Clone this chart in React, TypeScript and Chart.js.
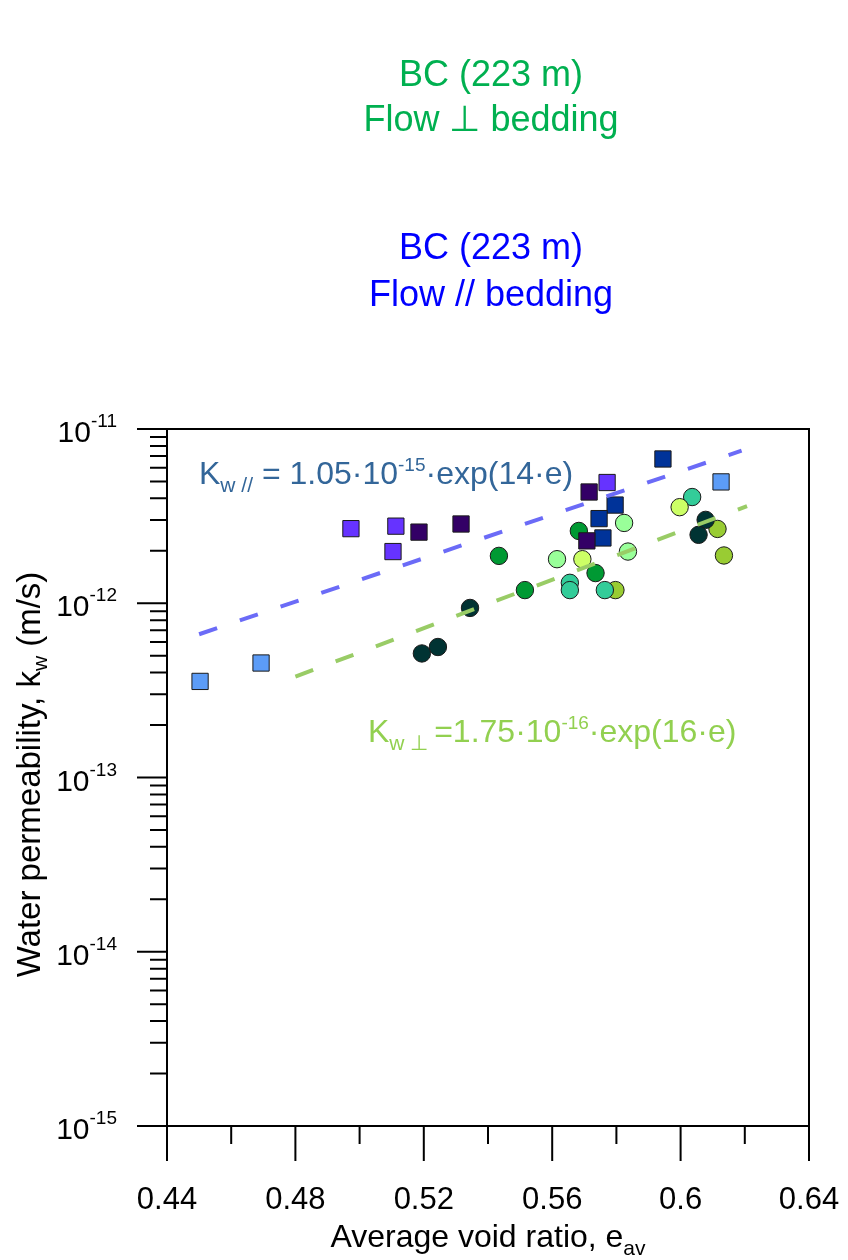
import React, { useEffect, useRef } from 'react';
import { Chart, registerables } from 'chart.js';

Chart.register(...registerables);

// ---------- axis definitions ----------
const X_MIN = 0.44;
const X_MAX = 0.64;
const Y_MIN = 1e-15;
const Y_MAX = 1e-11;
const xMajorTicks = [0.44, 0.48, 0.52, 0.56, 0.6, 0.64];
const xTickLabels = ['0.44', '0.48', '0.52', '0.56', '0.6', '0.64'];
const xMinorTicks = [0.46, 0.5, 0.54, 0.58, 0.62];
const yDecadeExponents = [-11, -12, -13, -14, -15];
const yMinorMultipliers = [2, 3, 4, 5, 6, 7, 8, 9];

// ---------- flow // bedding (squares) ----------
const parLightBlueE = [0.4503, 0.4693, 0.6126];
const parLightBlueK = [3.56e-13, 4.54e-13, 4.97e-12];
const parPurpleE = [0.4973, 0.5113, 0.5104, 0.5771];
const parPurpleK = [2.68e-12, 2.77e-12, 1.98e-12, 4.93e-12];
const parDarkPurpleE = [0.5185, 0.5316, 0.5715, 0.5708];
const parDarkPurpleK = [2.56e-12, 2.85e-12, 4.35e-12, 2.28e-12];
const parDarkBlueE = [0.5796, 0.5746, 0.5758, 0.5945];
const parDarkBlueK = [3.66e-12, 3.06e-12, 2.37e-12, 6.73e-12];

// ---------- flow ⊥ bedding (circles) ----------
const perpDarkTealE = [0.5344, 0.5244, 0.5194, 0.6078, 0.6056];
const perpDarkTealK = [9.4e-13, 5.61e-13, 5.15e-13, 3.01e-12, 2.47e-12];
const perpGreenE = [0.5434, 0.5515, 0.5683, 0.5735];
const perpGreenK = [1.87e-12, 1.19e-12, 2.6e-12, 1.49e-12];
const perpLightGreenE = [0.5615, 0.5824, 0.5836];
const perpLightGreenK = [1.79e-12, 2.89e-12, 1.98e-12];
const perpYellowE = [0.5694, 0.5997];
const perpYellowK = [1.79e-12, 3.56e-12];
const perpTealE = [0.5655, 0.5655, 0.5764, 0.6036];
const perpTealK = [1.31e-12, 1.19e-12, 1.19e-12, 4.07e-12];
const perpOliveE = [0.5797, 0.6115, 0.6135];
const perpOliveK = [1.19e-12, 2.67e-12, 1.88e-12];

// ---------- fitted trend lines (end points) ----------
const fitParE = [0.45, 0.619];
const fitParK = [6.64e-13, 7.51e-12];
const fitPerpE = [0.48, 0.6207];
const fitPerpK = [3.79e-13, 3.61e-12];

const FONT = "'Liberation Sans', Arial, Helvetica, sans-serif";

type Part = { t: string; size: number; dy?: number };

function drawRich(
  ctx: CanvasRenderingContext2D,
  parts: Part[],
  x: number,
  y: number,
  color: string,
  align: 'left' | 'right' | 'center',
  sx = 1
) {
  ctx.save();
  ctx.fillStyle = color;
  ctx.textBaseline = 'alphabetic';
  ctx.textAlign = 'left';
  let total = 0;
  const widths = parts.map((p) => {
    ctx.font = `${p.size}px ${FONT}`;
    const w = ctx.measureText(p.t).width;
    total += w;
    return w;
  });
  const start = align === 'left' ? x : align === 'right' ? x - total * sx : x - (total * sx) / 2;
  ctx.translate(start, y);
  ctx.scale(sx, 1);
  let cx = 0;
  parts.forEach((p, i) => {
    ctx.font = `${p.size}px ${FONT}`;
    ctx.fillText(p.t, cx, p.dy || 0);
    cx += widths[i];
  });
  ctx.restore();
}

const decorPlugin = {
  id: 'decor',
  afterDraw(chart: any) {
    const ctx: CanvasRenderingContext2D = chart.ctx;
    const xs = chart.scales.x;
    const ys = chart.scales.y;
    const { left, right, top, bottom } = chart.chartArea;

    ctx.save();
    // frame
    ctx.strokeStyle = '#000';
    ctx.lineWidth = 2;
    ctx.strokeRect(left, top, right - left, bottom - top);

    // x ticks
    ctx.lineWidth = 2;
    ctx.beginPath();
    xMajorTicks.forEach((v) => {
      const px = xs.getPixelForValue(v);
      ctx.moveTo(px, bottom);
      ctx.lineTo(px, bottom + 35);
    });
    xMinorTicks.forEach((v) => {
      const px = xs.getPixelForValue(v);
      ctx.moveTo(px, bottom);
      ctx.lineTo(px, bottom + 18);
    });
    // y ticks
    yDecadeExponents.forEach((e) => {
      const py = ys.getPixelForValue(Math.pow(10, e));
      ctx.moveTo(left, py);
      ctx.lineTo(left - 30, py);
      if (e < -11) {
        yMinorMultipliers.forEach((m) => {
          const pm = ys.getPixelForValue(m * Math.pow(10, e));
          ctx.moveTo(left, pm);
          ctx.lineTo(left - 17, pm);
        });
      }
    });
    ctx.stroke();
    ctx.restore();

    // x tick labels
    xMajorTicks.forEach((v, i) => {
      const px = xs.getPixelForValue(v);
      drawRich(ctx, [{ t: xTickLabels[i], size: 31 }], px, bottom + 83, '#000', 'center');
    });
    // y tick labels
    yDecadeExponents.forEach((e) => {
      const py = ys.getPixelForValue(Math.pow(10, e));
      drawRich(
        ctx,
        [
          { t: '10', size: 30 },
          { t: String(e), size: 19, dy: -15 },
        ],
        left - 50,
        py + 13,
        '#000',
        'right'
      );
    });

    // x title
    drawRich(
      ctx,
      [
        { t: 'Average void ratio, e', size: 32 },
        { t: 'av', size: 21, dy: 8 },
      ],
      (left + right) / 2,
      1247,
      '#000',
      'center'
    );
    // y title
    ctx.save();
    ctx.translate(40, (top + bottom) / 2 - 3);
    ctx.rotate(-Math.PI / 2);
    drawRich(
      ctx,
      [
        { t: 'Water permeability, k', size: 33 },
        { t: 'w', size: 21, dy: 7 },
        { t: ' (m/s)', size: 33 },
      ],
      0,
      0,
      '#000',
      'center'
    );
    ctx.restore();

    // equations
    drawRich(
      ctx,
      [
        { t: 'K', size: 32 },
        { t: 'w //', size: 21, dy: 8 },
        { t: ' = 1.05·10', size: 32 },
        { t: '-15', size: 19, dy: -13 },
        { t: '·exp(14·e)', size: 32 },
      ],
      199,
      484,
      '#336699',
      'left'
    );
    drawRich(
      ctx,
      [
        { t: 'K', size: 32 },
        { t: 'w ⊥ ', size: 21, dy: 8 },
        { t: '=1.75·10', size: 32 },
        { t: '-16', size: 19, dy: -13 },
        { t: '·exp(16·e)', size: 32 },
      ],
      368,
      742,
      '#92d050',
      'left'
    );

    // headings
    drawRich(ctx, [{ t: 'BC (223 m)', size: 36 }], 491, 86, '#00b050', 'center');
    drawRich(ctx, [{ t: 'Flow ⊥ bedding', size: 36 }], 491, 131, '#00b050', 'center');
    drawRich(ctx, [{ t: 'BC (223 m)', size: 36 }], 491, 259, '#0000ff', 'center');
    drawRich(ctx, [{ t: 'Flow // bedding', size: 36 }], 491, 306, '#0000ff', 'center');
  },
};

function pts(e: number[], k: number[]) {
  return e.map((x, i) => ({ x, y: k[i] }));
}

function squares(label: string, e: number[], k: number[], color: string) {
  return {
    label,
    data: pts(e, k),
    pointStyle: 'rect',
    pointRadius: 11.5,
    backgroundColor: color,
    borderColor: '#1a1a1a',
    borderWidth: 1,
    showLine: false,
    order: 1,
  };
}

function circles(label: string, e: number[], k: number[], color: string) {
  return {
    label,
    data: pts(e, k),
    pointStyle: 'circle',
    pointRadius: 8.7,
    backgroundColor: color,
    borderColor: '#1a1a1a',
    borderWidth: 1,
    showLine: false,
    order: 2,
  };
}

function fit(label: string, e: number[], k: number[], color: string) {
  return {
    label,
    data: pts(e, k),
    showLine: true,
    pointRadius: 0,
    borderColor: color,
    borderWidth: 4,
    borderDash: [19, 24],
    fill: false,
    order: 0,
  };
}

export default function App() {
  const ref = useRef<HTMLCanvasElement | null>(null);
  useEffect(() => {
    if (!ref.current) return;
    const chart = new Chart(ref.current, {
      type: 'scatter',
      data: {
        datasets: [
          fit('fit //', fitParE, fitParK, '#6b6bf7'),
          fit('fit ⊥', fitPerpE, fitPerpK, '#99cc66'),
          squares('// light blue', parLightBlueE, parLightBlueK, '#5c9cf7'),
          squares('// purple', parPurpleE, parPurpleK, '#6633ff'),
          squares('// dark purple', parDarkPurpleE, parDarkPurpleK, '#330066'),
          squares('// dark blue', parDarkBlueE, parDarkBlueK, '#003399'),
          circles('⊥ dark teal', perpDarkTealE, perpDarkTealK, '#003333'),
          circles('⊥ green', perpGreenE, perpGreenK, '#009933'),
          circles('⊥ light green', perpLightGreenE, perpLightGreenK, '#99ff99'),
          circles('⊥ yellow', perpYellowE, perpYellowK, '#ccff66'),
          circles('⊥ teal', perpTealE, perpTealK, '#33cc99'),
          circles('⊥ olive', perpOliveE, perpOliveK, '#99cc33'),
        ] as any,
      },
      options: {
        responsive: false,
        animation: false,
        devicePixelRatio: 1,
        layout: { padding: { left: 0, right: 39, top: 429, bottom: 0 } },
        plugins: {
          legend: { display: false },
          tooltip: { enabled: false },
          title: { display: false },
        },
        scales: {
          x: {
            type: 'linear',
            min: X_MIN,
            max: X_MAX,
            afterFit: (s: any) => {
              s.height = 134;
            },
            ticks: { display: false },
            grid: { display: false },
            border: { display: false },
          },
          y: {
            type: 'logarithmic',
            min: Y_MIN,
            max: Y_MAX,
            afterFit: (s: any) => {
              s.width = 167;
            },
            ticks: { display: false },
            grid: { display: false },
            border: { display: false },
          },
        },
      } as any,
      plugins: [decorPlugin],
    });
    return () => chart.destroy();
  }, []);

  return (
    <div style={{ position: 'absolute', left: 0, top: 0, width: 848, height: 1260, background: '#fff' }}>
      <canvas ref={ref} width={848} height={1260} style={{ display: 'block', width: 848, height: 1260 }} />
    </div>
  );
}
